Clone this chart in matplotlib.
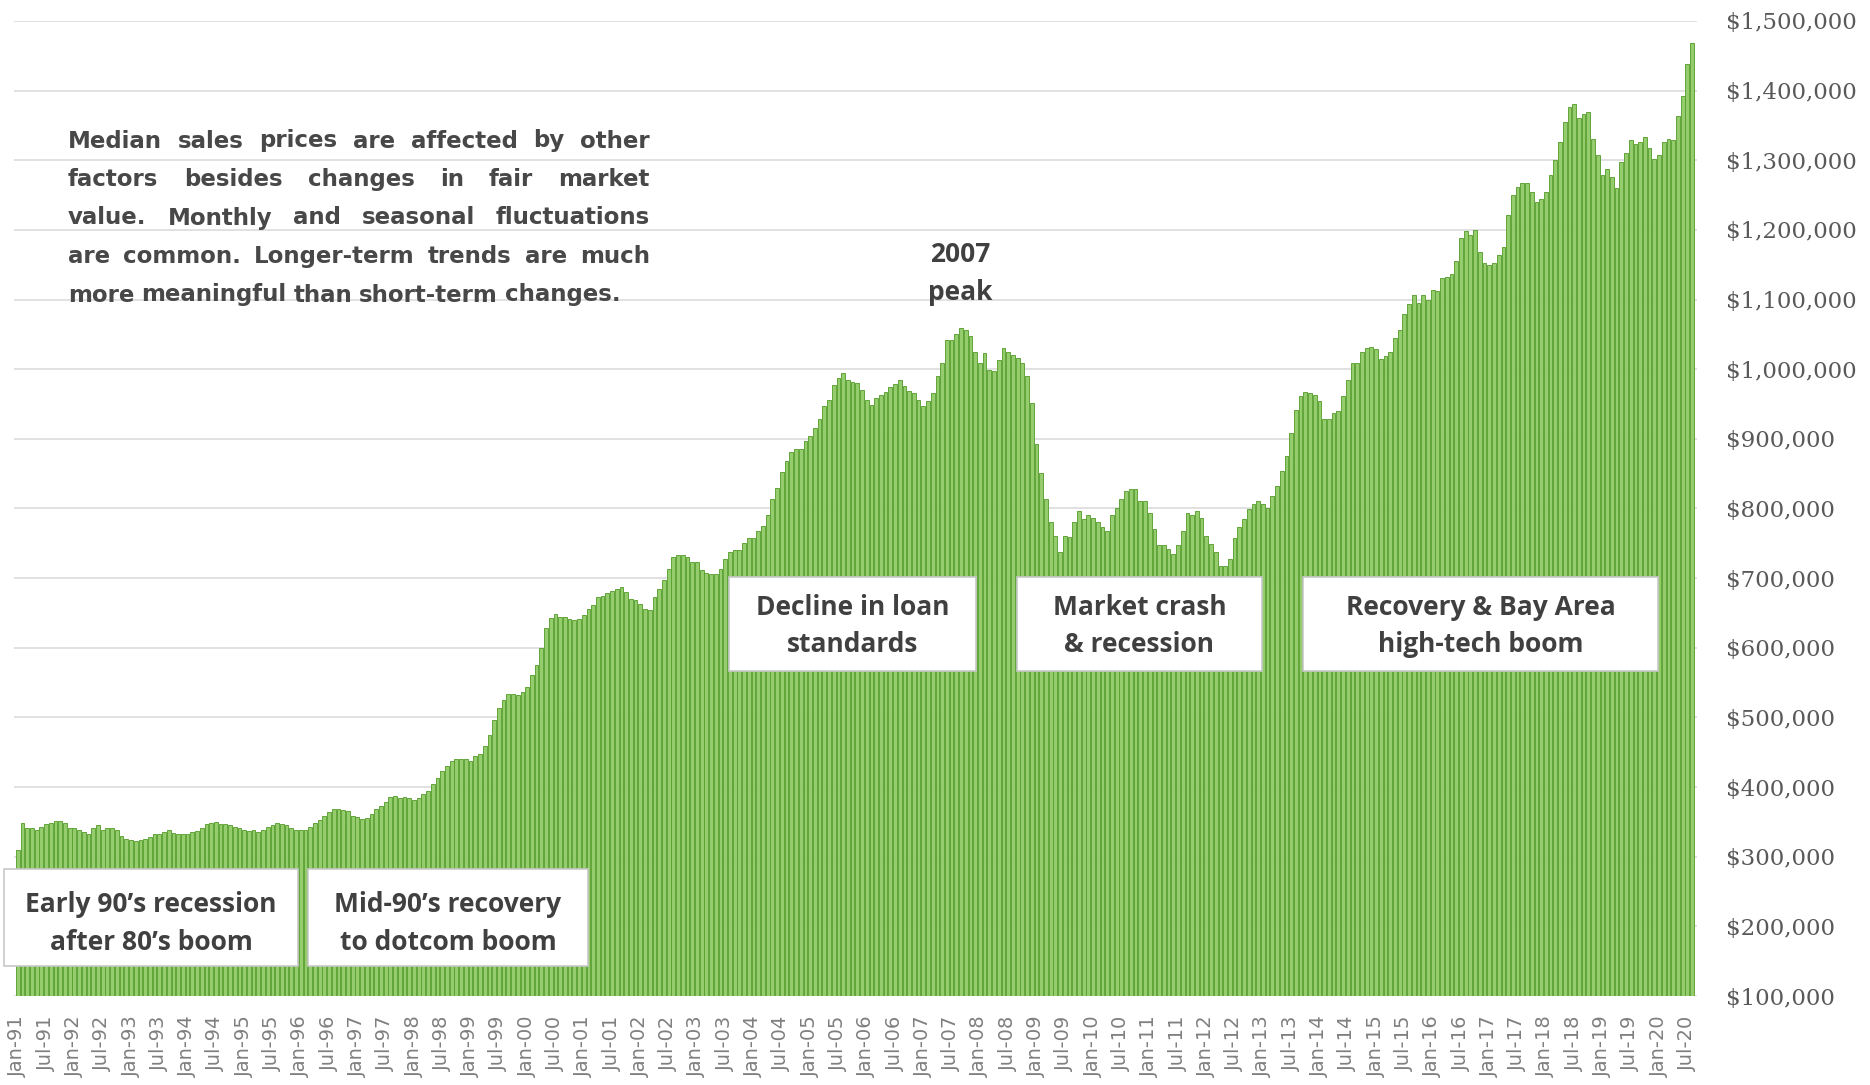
import pandas as pd
import matplotlib.pyplot as plt
from matplotlib.patches import Rectangle
from matplotlib.ticker import FuncFormatter

# monthly median sales price (thousands of $), Jan-91 .. Aug-20
median_price_k = [
    310, 348, 341, 341, 338, 343, 347, 348, 351, 351, 348, 341,              # 1991
    341, 339, 336, 333, 341, 345, 338, 341, 341, 338, 330, 325,              # 1992
    324, 322, 324, 325, 328, 332, 333, 336, 338, 334, 333, 333,              # 1993
    332, 336, 337, 341, 347, 349, 350, 347, 347, 345, 343, 341,              # 1994
    338, 337, 338, 336, 339, 343, 346, 348, 347, 345, 341, 339,              # 1995
    339, 338, 343, 348, 353, 359, 364, 369, 369, 367, 366, 359,              # 1996
    357, 354, 356, 361, 368, 373, 378, 386, 387, 385, 386, 384,              # 1997
    382, 385, 390, 394, 404, 413, 423, 430, 437, 441, 441, 440,              # 1998
    437, 444, 447, 459, 475, 497, 513, 525, 533, 533, 532, 537,              # 1999
    544, 561, 575, 599, 628, 643, 648, 644, 644, 641, 640, 642,              # 2000
    647, 656, 661, 673, 675, 679, 682, 685, 687, 680, 670, 668,              # 2001
    663, 656, 654, 673, 685, 697, 713, 730, 733, 733, 731, 723,              # 2002
    723, 711, 708, 706, 706, 713, 728, 738, 740, 740, 751, 757,              # 2003
    757, 767, 775, 790, 813, 830, 853, 868, 881, 886, 886, 897,              # 2004
    904, 916, 928, 947, 956, 978, 987, 994, 985, 982, 980, 970,              # 2005
    956, 948, 959, 963, 967, 975, 979, 984, 976, 968, 966, 956,              # 2006
    947, 954, 966, 990, 1009, 1042, 1042, 1051, 1059, 1056, 1047, 1025,      # 2007
    1009, 1023, 999, 997, 1013, 1030, 1025, 1020, 1016, 1009, 990, 951,      # 2008
    892, 851, 813, 780, 761, 737, 761, 759, 780, 797, 785, 790,              # 2009
    786, 780, 773, 768, 790, 801, 813, 825, 828, 828, 811, 811,              # 2010
    794, 770, 747, 747, 742, 735, 747, 768, 794, 790, 797, 787,              # 2011
    761, 749, 737, 718, 717, 728, 757, 773, 785, 799, 806, 811,              # 2012
    806, 801, 818, 832, 854, 875, 909, 942, 961, 967, 966, 963,              # 2013
    954, 928, 928, 937, 940, 961, 985, 1009, 1009, 1025, 1030, 1032,         # 2014
    1029, 1014, 1019, 1024, 1045, 1057, 1079, 1093, 1107, 1095, 1107, 1100,  # 2015
    1114, 1112, 1131, 1133, 1136, 1155, 1188, 1198, 1193, 1200, 1169, 1152,  # 2016
    1150, 1152, 1164, 1176, 1221, 1250, 1262, 1267, 1267, 1255, 1240, 1245,  # 2017
    1255, 1279, 1300, 1326, 1355, 1376, 1381, 1360, 1367, 1369, 1331, 1307,  # 2018
    1279, 1288, 1276, 1260, 1298, 1310, 1329, 1324, 1326, 1333, 1317, 1302,  # 2019
    1307, 1326, 1331, 1329, 1364, 1393, 1438, 1469,                          # 2020
]

months = pd.date_range("1991-01-01", periods=len(median_price_k), freq="MS")
tick_labels = [d.strftime("%b-%y") for d in months]

note_lines = [
    "Median sales prices are affected by other",
    "factors besides changes in fair market",
    "value. Monthly and seasonal fluctuations",
    "are common. Longer-term trends are much",
    "more meaningful than short-term changes.",
]

# (left, top, right, bottom) in pixels, text
boxes = [
    ((4, 869, 298, 966), "Early 90\u2019s recession\nafter 80\u2019s boom"),
    ((308, 869, 588, 966), "Mid-90\u2019s recovery\nto dotcom boom"),
    ((729, 577, 976, 671), "Decline in loan\nstandards"),
    ((1017, 577, 1262, 671), "Market crash\n& recession"),
    ((1303, 577, 1658, 671), "Recovery & Bay Area\nhigh-tech boom"),
]

W, H = 1870, 1085
TXT = "#404040"
FONT = "Open Sans"
fig = plt.figure(figsize=(W / 100, H / 100), dpi=100)
ax = fig.add_axes([14 / W, 1 - 996 / H, (1697 - 14) / W, (996 - 21) / H])

x = list(range(len(median_price_k)))
vals = [v * 1000 for v in median_price_k]
ax.bar(x, vals, width=0.8, color="#94cc6e", edgecolor="#58a030", linewidth=0.65, zorder=2)

ax.set_ylim(100000, 1500000)
ax.set_xlim(-0.8, len(x) + 0.05)
ax.set_yticks(range(100000, 1500001, 100000))
ax.yaxis.set_major_formatter(FuncFormatter(lambda v, p: "${:,.0f}".format(v)))
ax.yaxis.tick_right()
ax.tick_params(axis="y", length=0, pad=21, labelsize=16.5, labelcolor="#595959")
for lab in ax.get_yticklabels():
    lab.set_family("DejaVu Serif")
    lab.set_horizontalalignment("left")

ax.set_xticks(x[::6])
ax.set_xticklabels(tick_labels[::6], rotation=90, fontsize=14, color="#7f7f7f")
ax.tick_params(axis="x", length=0, pad=14)

ax.grid(axis="y", color="#dcdcdc", linewidth=1.2, zorder=0)
for s in ax.spines.values():
    s.set_visible(False)

# justified note text
renderer = fig.canvas.get_renderer()
x0, x1 = 68, 650
for i, line in enumerate(note_lines):
    y = 141 + i * 38.5
    words = line.split()
    texts = [fig.text(0, 0, w, fontsize=16.5, family="DejaVu Sans", weight="bold",
                      color="#484848", va="center", ha="left") for w in words]
    widths = [t.get_window_extent(renderer).width for t in texts]
    if i < len(note_lines) - 1:
        gap = max(5, (x1 - x0 - sum(widths)) / (len(words) - 1))
    else:
        gap = 7
    xx = x0
    for t, w in zip(texts, widths):
        t.set_position((xx / W, 1 - y / H))
        xx += w + gap

fig.text(960 / W, 1 - 254 / H, "2007", fontsize=19, family=FONT, weight="bold",
         color=TXT, ha="center", va="center")
fig.text(960 / W, 1 - 292 / H, "peak", fontsize=19, family=FONT, weight="bold",
         color=TXT, ha="center", va="center")

for (l, t, r, b), label in boxes:
    fig.patches.append(Rectangle((l / W, 1 - b / H), (r - l) / W, (b - t) / H,
                                 transform=fig.transFigure, facecolor="white",
                                 edgecolor="#c8c8c8", linewidth=1.2, zorder=5))
    cy = (t + b) / 2 + (6 if b > 900 else 2)
    fig.text((l + r) / 2 / W, 1 - cy / H, label, fontsize=19, family=FONT,
             weight="bold", color=TXT, ha="center", va="center", linespacing=1.5,
             zorder=6)

fig.savefig("out.png", dpi=100, facecolor="white")
plt.close(fig)
